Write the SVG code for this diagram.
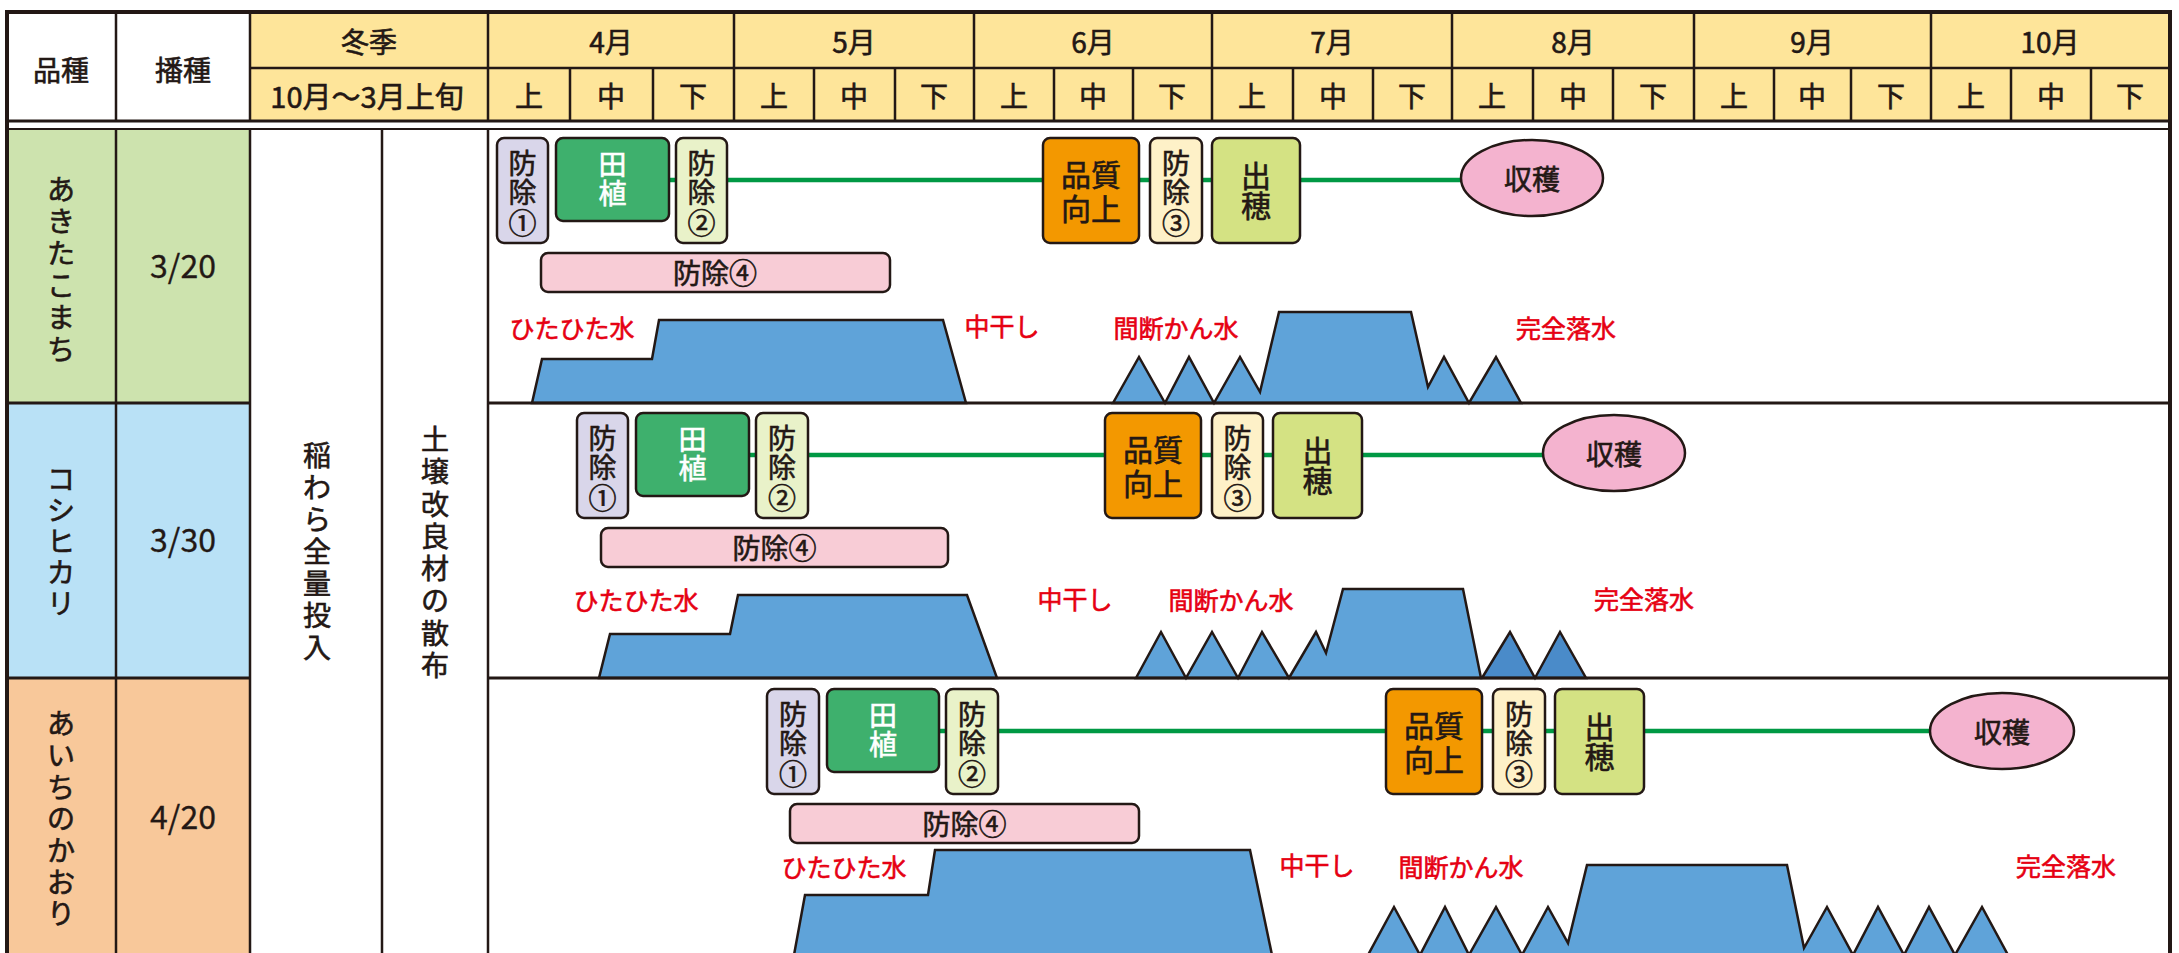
<svg xmlns="http://www.w3.org/2000/svg" width="2179" height="953" viewBox="0 0 2179 953">
<style>
text{font-family:'Noto Sans CJK JP','Noto Sans CJK SC',sans-serif;fill:#231815;stroke:#231815;stroke-width:0.6;text-anchor:middle;dominant-baseline:central;font-weight:400}
.h{font-size:28px}
.v{font-size:28px}
.d{font-size:32px;stroke-width:0.3}
.b{font-size:28px}
.w{fill:#ffffff;stroke:#ffffff}
.r{fill:#e60012;stroke:#e60012;font-size:25px}
.box{stroke:#231815;stroke-width:2.5}
.water{fill:#5fa3d9;stroke:#231815;stroke-width:2.5;stroke-linejoin:miter}
.dark{fill:#4a8bc9}
.g{stroke:#231815;stroke-width:2.5;fill:none}
.conn{stroke:#009944;stroke-width:4.5;fill:none}
</style>
<rect x="0" y="0" width="2179" height="953" fill="#ffffff"/>
<!-- header background -->
<rect x="250" y="12" width="1920" height="109" fill="#fee59a"/>
<!-- body row cells -->
<rect x="7" y="129" width="243" height="274" fill="#cde3ae"/>
<rect x="7" y="403" width="243" height="275" fill="#b9e1f6"/>
<rect x="7" y="678" width="243" height="278" fill="#f8c89a"/>

<!-- water level shapes -->
<g id="water-row1">
<path class="water" d="M532,403 L542,359 L652,359 L659,320 L943,320 L966,403 Z"/>
<path class="water" d="M1113,403 L1139,357 L1165,403 L1189,357 L1214,403 L1240,357 L1260,392 L1279,312 L1411,312 L1428,387 L1444,357 L1469,403 L1496,357 L1521,403 Z"/>
</g>
<g id="water-row2">
<path class="water" d="M599,678 L610,634 L730,634 L738,595 L967,595 L997,678 Z"/>
<path class="water" d="M1136,678 L1161,632 L1186,678 L1212,632 L1238,678 L1262,632 L1289,678 L1316,632 L1326,653 L1343,589 L1463,589 L1481,678 Z"/>
<path class="water dark" d="M1482,678 L1510,632 L1535,678 L1560,632 L1586,678 Z"/>
</g>
<g id="water-row3">
<path class="water" d="M794,955 L805,895 L928,895 L935,850 L1250,850 L1272,955 Z"/>
<path class="water" d="M1368,955 L1394,907 L1420,955 L1445,907 L1469,955 L1496,907 L1522,955 L1548,907 L1568,943 L1587,865 L1787,865 L1804,948 L1827,907 L1853,955 L1878,907 L1904,955 L1929,907 L1955,955 L1982,907 L2008,955 Z"/>
</g>

<!-- grid -->
<g id="grid" class="g">
<rect x="7" y="12" width="2163" height="950" stroke-width="4"/>
<path d="M250,68 H2170"/>
<path d="M7,121 H2170" stroke-width="3"/>
<path d="M7,129 H2170" stroke-width="2"/>
<path d="M116,12 V121 M250,12 V121 M488,12 V121 M734,12 V121 M974,12 V121 M1212,12 V121 M1452,12 V121 M1694,12 V121 M1931,12 V121"/>
<path d="M570,68 V121 M653,68 V121 M814,68 V121 M895,68 V121 M1054,68 V121 M1133,68 V121 M1293,68 V121 M1373,68 V121 M1533,68 V121 M1613,68 V121 M1774,68 V121 M1851,68 V121 M2011,68 V121 M2091,68 V121"/>
<path d="M116,129 V960 M250,129 V960 M382,129 V960 M488,129 V960"/>
<path d="M7,403 H250 M488,403 H2170 M7,678 H250 M488,678 H2170" stroke-width="3"/>
</g>

<!-- header texts -->
<g id="header">
<text class="h" x="61" y="69">品種</text>
<text class="h" x="183" y="69">播種</text>
<text class="h" x="369" y="41">冬季</text>
<text class="h" x="367" y="95" style="font-size:29px">10月～3月上旬</text>
<text class="h" x="611" y="41">4月</text>
<text class="h" x="854" y="41">5月</text>
<text class="h" x="1093" y="41">6月</text>
<text class="h" x="1332" y="41">7月</text>
<text class="h" x="1573" y="41">8月</text>
<text class="h" x="1812" y="41">9月</text>
<text class="h" x="2050" y="41">10月</text>
<text class="h" x="529" y="95">上</text><text class="h" x="611" y="95">中</text><text class="h" x="693" y="95">下</text>
<text class="h" x="774" y="95">上</text><text class="h" x="854" y="95">中</text><text class="h" x="934" y="95">下</text>
<text class="h" x="1014" y="95">上</text><text class="h" x="1093" y="95">中</text><text class="h" x="1172" y="95">下</text>
<text class="h" x="1252" y="95">上</text><text class="h" x="1333" y="95">中</text><text class="h" x="1412" y="95">下</text>
<text class="h" x="1492" y="95">上</text><text class="h" x="1573" y="95">中</text><text class="h" x="1653" y="95">下</text>
<text class="h" x="1734" y="95">上</text><text class="h" x="1812" y="95">中</text><text class="h" x="1891" y="95">下</text>
<text class="h" x="1971" y="95">上</text><text class="h" x="2051" y="95">中</text><text class="h" x="2130" y="95">下</text>
</g>

<!-- variety / sowing -->
<g id="variety-akitakomachi"><text class="v"><tspan x="61" y="188">あ</tspan><tspan x="61" y="220">き</tspan><tspan x="61" y="252">た</tspan><tspan x="61" y="284">こ</tspan><tspan x="61" y="316">ま</tspan><tspan x="61" y="348">ち</tspan></text></g>
<g id="sow-1"><text class="d" x="183" y="264">3/20</text></g>
<g id="variety-koshihikari"><text class="v"><tspan x="61" y="478">コ</tspan><tspan x="61" y="509">シ</tspan><tspan x="61" y="540">ヒ</tspan><tspan x="61" y="571">カ</tspan><tspan x="61" y="602">リ</tspan></text></g>
<g id="sow-2"><text class="d" x="183" y="538">3/30</text></g>
<g id="variety-aichinokaori"><text class="v"><tspan x="61" y="722">あ</tspan><tspan x="61" y="754">い</tspan><tspan x="61" y="786">ち</tspan><tspan x="61" y="817">の</tspan><tspan x="61" y="849">か</tspan><tspan x="61" y="881">お</tspan><tspan x="61" y="912">り</tspan></text></g>
<g id="sow-3"><text class="d" x="183" y="815">4/20</text></g>

<g id="winter-straw"><text class="h"><tspan x="317" y="454">稲</tspan><tspan x="317" y="486">わ</tspan><tspan x="317" y="518">ら</tspan><tspan x="317" y="550">全</tspan><tspan x="317" y="582">量</tspan><tspan x="317" y="614">投</tspan><tspan x="317" y="646">入</tspan></text></g>
<g id="winter-soil"><text class="h"><tspan x="435" y="438">土</tspan><tspan x="435" y="470">壌</tspan><tspan x="435" y="503">改</tspan><tspan x="435" y="535">良</tspan><tspan x="435" y="567">材</tspan><tspan x="435" y="599">の</tspan><tspan x="435" y="632">散</tspan><tspan x="435" y="664">布</tspan></text></g>

<!-- water labels -->
<g id="labels">
<text class="r" x="572" y="327">ひたひた水</text>
<text class="r" x="1002" y="325">中干し</text>
<text class="r" x="1176" y="327">間断かん水</text>
<text class="r" x="1566" y="327">完全落水</text>
<text class="r" x="636" y="599">ひたひた水</text>
<text class="r" x="1075" y="598">中干し</text>
<text class="r" x="1231" y="599">間断かん水</text>
<text class="r" x="1644" y="598">完全落水</text>
<text class="r" x="844" y="866">ひたひた水</text>
<text class="r" x="1317" y="864">中干し</text>
<text class="r" x="1461" y="866">間断かん水</text>
<text class="r" x="2066" y="865">完全落水</text>
</g>

<!-- connectors -->
<g id="connectors">
<path class="conn" d="M669,180 H1461"/>
<path class="conn" d="M749,455 H1543"/>
<path class="conn" d="M939,731 H1930"/>
</g>

<!-- row 1 nodes -->
<g id="r1-bojo1"><rect class="box" x="497" y="138" width="51" height="105" rx="7" fill="#d9d6ea"/><text class="b"><tspan x="522.5" y="162">防</tspan><tspan x="522.5" y="191">除</tspan><tspan x="522.5" y="222">①</tspan></text></g>
<g id="r1-taue"><rect class="box" x="556" y="138" width="113" height="83" rx="7" fill="#3eb06d"/><text class="b w"><tspan x="612.5" y="163">田</tspan><tspan x="612.5" y="192">植</tspan></text></g>
<g id="r1-bojo2"><rect class="box" x="676" y="138" width="51" height="105" rx="7" fill="#e9f2c9"/><text class="b"><tspan x="701.5" y="162">防</tspan><tspan x="701.5" y="191">除</tspan><tspan x="701.5" y="222">②</tspan></text></g>
<g id="r1-hinshitsu"><rect class="box" x="1043" y="138" width="96" height="105" rx="7" fill="#f39800"/><text class="b" style="font-size:30px"><tspan x="1091" y="173">品質</tspan><tspan x="1091" y="207">向上</tspan></text></g>
<g id="r1-bojo3"><rect class="box" x="1150" y="138" width="52" height="105" rx="7" fill="#fef1c8"/><text class="b"><tspan x="1176" y="162">防</tspan><tspan x="1176" y="191">除</tspan><tspan x="1176" y="222">③</tspan></text></g>
<g id="r1-shussui"><rect class="box" x="1212" y="138" width="88" height="105" rx="7" fill="#d4e283"/><text class="b" style="font-size:30px"><tspan x="1256" y="174">出</tspan><tspan x="1256" y="204">穂</tspan></text></g>
<g id="r1-shukaku"><ellipse class="box" cx="1532" cy="178" rx="71" ry="38" fill="#f4b3cf"/><text class="b" x="1532" y="178">収穫</text></g>
<g id="r1-bojo4"><rect class="box" x="541" y="253" width="349" height="39" rx="7" fill="#f8ccd6"/><text class="b" x="715" y="272">防除④</text></g>

<!-- row 2 nodes -->
<g id="r2-bojo1"><rect class="box" x="577" y="413" width="51" height="105" rx="7" fill="#d9d6ea"/><text class="b"><tspan x="602.5" y="437">防</tspan><tspan x="602.5" y="466">除</tspan><tspan x="602.5" y="497">①</tspan></text></g>
<g id="r2-taue"><rect class="box" x="636" y="413" width="113" height="83" rx="7" fill="#3eb06d"/><text class="b w"><tspan x="692.5" y="438">田</tspan><tspan x="692.5" y="467">植</tspan></text></g>
<g id="r2-bojo2"><rect class="box" x="756" y="413" width="52" height="105" rx="7" fill="#e9f2c9"/><text class="b"><tspan x="782" y="437">防</tspan><tspan x="782" y="466">除</tspan><tspan x="782" y="497">②</tspan></text></g>
<g id="r2-hinshitsu"><rect class="box" x="1105" y="413" width="96" height="105" rx="7" fill="#f39800"/><text class="b" style="font-size:30px"><tspan x="1153" y="448">品質</tspan><tspan x="1153" y="482">向上</tspan></text></g>
<g id="r2-bojo3"><rect class="box" x="1212" y="413" width="51" height="105" rx="7" fill="#fef1c8"/><text class="b"><tspan x="1237.5" y="437">防</tspan><tspan x="1237.5" y="466">除</tspan><tspan x="1237.5" y="497">③</tspan></text></g>
<g id="r2-shussui"><rect class="box" x="1273" y="413" width="89" height="105" rx="7" fill="#d4e283"/><text class="b" style="font-size:30px"><tspan x="1317.5" y="449">出</tspan><tspan x="1317.5" y="479">穂</tspan></text></g>
<g id="r2-shukaku"><ellipse class="box" cx="1614" cy="453" rx="71" ry="38" fill="#f4b3cf"/><text class="b" x="1614" y="453">収穫</text></g>
<g id="r2-bojo4"><rect class="box" x="601" y="528" width="347" height="39" rx="7" fill="#f8ccd6"/><text class="b" x="774.5" y="547">防除④</text></g>

<!-- row 3 nodes -->
<g id="r3-bojo1"><rect class="box" x="767" y="689" width="52" height="105" rx="7" fill="#d9d6ea"/><text class="b"><tspan x="793" y="713">防</tspan><tspan x="793" y="742">除</tspan><tspan x="793" y="773">①</tspan></text></g>
<g id="r3-taue"><rect class="box" x="827" y="689" width="112" height="83" rx="7" fill="#3eb06d"/><text class="b w"><tspan x="883" y="714">田</tspan><tspan x="883" y="743">植</tspan></text></g>
<g id="r3-bojo2"><rect class="box" x="946" y="689" width="52" height="105" rx="7" fill="#e9f2c9"/><text class="b"><tspan x="972" y="713">防</tspan><tspan x="972" y="742">除</tspan><tspan x="972" y="773">②</tspan></text></g>
<g id="r3-hinshitsu"><rect class="box" x="1386" y="689" width="96" height="105" rx="7" fill="#f39800"/><text class="b" style="font-size:30px"><tspan x="1434" y="724">品質</tspan><tspan x="1434" y="758">向上</tspan></text></g>
<g id="r3-bojo3"><rect class="box" x="1493" y="689" width="52" height="105" rx="7" fill="#fef1c8"/><text class="b"><tspan x="1519" y="713">防</tspan><tspan x="1519" y="742">除</tspan><tspan x="1519" y="773">③</tspan></text></g>
<g id="r3-shussui"><rect class="box" x="1555" y="689" width="89" height="105" rx="7" fill="#d4e283"/><text class="b" style="font-size:30px"><tspan x="1599.5" y="725">出</tspan><tspan x="1599.5" y="755">穂</tspan></text></g>
<g id="r3-shukaku"><ellipse class="box" cx="2002" cy="731" rx="72" ry="38" fill="#f4b3cf"/><text class="b" x="2002" y="731">収穫</text></g>
<g id="r3-bojo4"><rect class="box" x="790" y="804" width="349" height="39" rx="7" fill="#f8ccd6"/><text class="b" x="964.5" y="823">防除④</text></g>
</svg>
